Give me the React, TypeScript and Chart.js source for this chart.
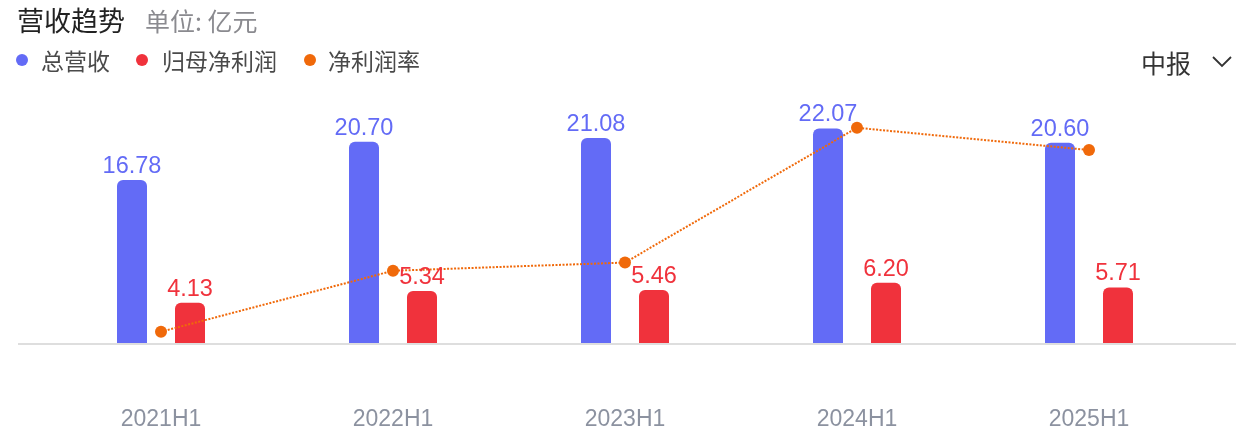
import React, { useEffect, useRef } from "react";
import { Chart, registerables } from "chart.js";

Chart.register(...registerables);

const categories = ["2021H1", "2022H1", "2023H1", "2024H1", "2025H1"];
const revenue = [16.78, 20.7, 21.08, 22.07, 20.6];
const netProfit = [4.13, 5.34, 5.46, 6.2, 5.71];
const netMargin = [24.61, 25.65, 25.79, 28.09, 27.71];

const BLUE = "rgb(99,107,246)";
const RED = "rgb(240,50,60)";
const ORANGE = "rgb(240,105,10)";
const AXIS_GRAY = "rgb(140,146,160)";
const CJK = "'Noto Sans CJK SC', 'Noto Sans', sans-serif";
const LATIN = "Arial, 'Liberation Sans', 'Noto Sans CJK SC', sans-serif";

const valueLabelPlugin = {
  id: "valueLabels",
  beforeDatasetsDraw(chart: any) {
    const { ctx } = chart;
    const y0 = chart.scales.y.getPixelForValue(0);
    ctx.save();
    ctx.strokeStyle = "#dedede";
    ctx.lineWidth = 2;
    ctx.beginPath();
    ctx.moveTo(18, y0 + 1);
    ctx.lineTo(1236, y0 + 1);
    ctx.stroke();
    ctx.restore();
  },
  afterDatasetsDraw(chart: any) {
    const { ctx } = chart;
    ctx.save();
    ctx.font = `23.5px ${LATIN}`;
    ctx.textAlign = "center";
    ctx.textBaseline = "alphabetic";
    [0, 1].forEach((di) => {
      const meta = chart.getDatasetMeta(di);
      const ds = chart.data.datasets[di];
      ctx.fillStyle = ds.backgroundColor;
      meta.data.forEach((bar: any, i: number) => {
        const v = ds.data[i] as number;
        ctx.fillText(v.toFixed(2), bar.x, bar.y - 7);
      });
    });
    ctx.restore();
  },
};

export default function App() {
  const canvasRef = useRef<HTMLCanvasElement | null>(null);

  useEffect(() => {
    document.body.style.margin = "0";
    const chart = new Chart(canvasRef.current as HTMLCanvasElement, {
      type: "bar",
      data: {
        labels: categories,
        datasets: [
          {
            type: "bar",
            label: "总营收",
            data: revenue,
            backgroundColor: BLUE,
            yAxisID: "y",
            borderRadius: { topLeft: 6, topRight: 6, bottomLeft: 0, bottomRight: 0 },
            borderSkipped: false,
            order: 2,
          } as any,
          {
            type: "bar",
            label: "归母净利润",
            data: netProfit,
            backgroundColor: RED,
            yAxisID: "y",
            borderRadius: { topLeft: 6, topRight: 6, bottomLeft: 0, bottomRight: 0 },
            borderSkipped: false,
            order: 2,
          } as any,
          {
            type: "line",
            label: "净利润率",
            data: netMargin,
            yAxisID: "y1",
            borderColor: ORANGE,
            backgroundColor: ORANGE,
            borderWidth: 2,
            borderDash: [2, 1.5],
            pointRadius: 6,
            pointBorderWidth: 0,
            pointBackgroundColor: ORANGE,
            tension: 0,
            order: 0,
          } as any,
        ],
      },
      options: {
        responsive: false,
        animation: false,
        events: [],
        layout: { padding: { left: 45, right: 51, top: 100, bottom: 0 } },
        datasets: { bar: { categoryPercentage: 0.5, barPercentage: 30 / 58 } },
        plugins: { legend: { display: false }, tooltip: { enabled: false }, title: { display: false } },
        scales: {
          x: {
            grid: { display: false, drawTicks: false },
            border: { display: false },
            ticks: { font: { size: 23, family: LATIN }, color: AXIS_GRAY, padding: 63 },
            afterFit: (scale: any) => {
              scale.height = 103;
            },
          },
          y: { display: false, min: 0, max: 25 },
          y1: { display: false, min: 24.417, max: 28.564, position: "right" },
        },
      } as any,
      plugins: [valueLabelPlugin],
    });
    return () => chart.destroy();
  }, []);

  const legendItems = [
    { color: BLUE, text: "总营收", cx: 22, tx: 41 },
    { color: RED, text: "归母净利润", cx: 142, tx: 162 },
    { color: ORANGE, text: "净利润率", cx: 310, tx: 328 },
  ];

  return (
    <div style={{ position: "relative", width: 1256, height: 446, background: "#fff", overflow: "hidden" }}>
      <canvas ref={canvasRef} width={1256} height={446} style={{ position: "absolute", left: 0, top: 0 }} />
      <div
        style={{
          position: "absolute",
          left: 17,
          top: 6,
          fontFamily: CJK,
          fontSize: 27,
          lineHeight: "27px",
          color: "#222",
          whiteSpace: "nowrap",
        }}
      >
        营收趋势
      </div>
      <div
        style={{
          position: "absolute",
          left: 145,
          top: 8,
          fontFamily: CJK,
          fontSize: 25,
          lineHeight: "25px",
          color: "#8a8a8f",
          whiteSpace: "nowrap",
        }}
      >
        单位: 亿元
      </div>
      {legendItems.map((it) => (
        <React.Fragment key={it.text}>
          <div
            style={{
              position: "absolute",
              left: it.cx - 6,
              top: 60 - 6,
              width: 12,
              height: 12,
              borderRadius: "50%",
              background: it.color,
            }}
          />
          <div
            style={{
              position: "absolute",
              left: it.tx,
              top: 49,
              fontFamily: CJK,
              fontSize: 23,
              lineHeight: "23px",
              color: "#4a4a4a",
              whiteSpace: "nowrap",
            }}
          >
            {it.text}
          </div>
        </React.Fragment>
      ))}
      <div
        style={{
          position: "absolute",
          left: 1141,
          top: 50,
          fontFamily: CJK,
          fontSize: 25,
          lineHeight: "25px",
          color: "#333",
          whiteSpace: "nowrap",
        }}
      >
        中报
      </div>
      <svg
        width={22}
        height={14}
        style={{ position: "absolute", left: 1211, top: 55 }}
        viewBox="0 0 22 14"
      >
        <polyline points="2,2 11,11 20,2" fill="none" stroke="#333" strokeWidth={1.8} />
      </svg>
    </div>
  );
}
